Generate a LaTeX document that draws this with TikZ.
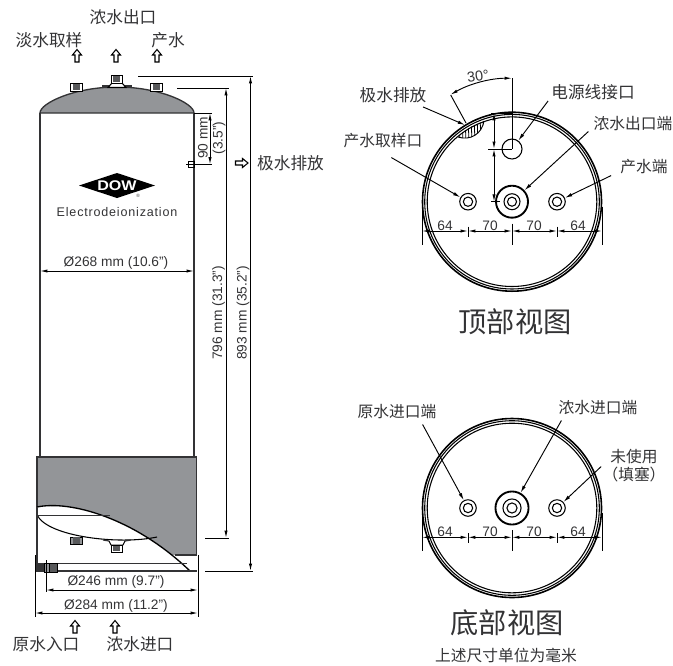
\documentclass[tikz,border=0pt]{standalone}
\usepackage{fontspec}
\setmainfont{Liberation Sans}
\newfontfamily\cjk{Noto Sans CJK SC}
\usetikzlibrary{arrows.meta, calc}
\definecolor{shellgray}{HTML}{939598}
\definecolor{inkgray}{HTML}{333335}
\definecolor{boltgray}{HTML}{58595B}
\tikzset{
    labelcn/.style={font=\cjk\fontsize{11.8}{14}\selectfont, text=inkgray, inner sep=0pt},
    labeltop/.style={font=\cjk\fontsize{12.5}{14}\selectfont, text=inkgray, inner sep=0pt},
    labelview/.style={font=\cjk\fontsize{21.2}{24}\selectfont, text=inkgray, inner sep=0pt},
    dimtext/.style={font=\fontsize{10.3}{12}\selectfont, text=inkgray, inner sep=0pt},
    dimline/.style={line width=0.7pt, {Latex[length=5.5pt,width=2.4pt]}-{Latex[length=5.5pt,width=2.4pt]}},
    thinline/.style={line width=0.7pt},
    leader/.style={line width=0.7pt, -{Latex[length=5.5pt,width=2.6pt]}},
    shellline/.style={line width=1pt, draw=inkgray},
    portring/.style={circle, draw=black, inner sep=0pt, line width=#1},
    portring/.default=0.8pt,
    hollowarrow/.pic={\draw[line width=0.8pt, fill=white] (0,-6.5) -- (4.5,-1) -- (2,-1) -- (2,6) -- (-2,6) -- (-2,-1) -- (-4.5,-1) -- cycle;}
}
\begin{document}
\begin{tikzpicture}[x=0.75pt, y=-0.75pt]
    \useasboundingbox (0,0) rectangle (673,665);

    % tank body
    \draw[shellline] (40,113) -- (40,457);
    \draw[shellline] (194,113) -- (194,457);
    \draw[shellline, fill=shellgray] (40,113) .. controls (40,103) and (75,87) .. (117,87) .. controls (159,87) and (194,103) .. (194,113) -- cycle;
    \fill[shellgray] (37,457) rectangle (196.5,555);
    \draw[shellline] (37,555) -- (37,457) -- (196.5,457) -- (196.5,555);
    \fill[white] (37,507) .. controls (70,500) and (135,518) .. (190,571) -- (37,571) -- cycle;
    \draw[line width=1pt] (37,507) .. controls (70,500) and (135,518) .. (190,571);
    \draw[line width=0.8pt] (37,515) .. controls (48,537) and (120,545) .. (157,537);
    \draw[line width=0.6pt, inkgray] (37,515) -- (110,515);
    \draw[shellline] (37,507) -- (37,563);
    \draw[shellline] (37,571) -- (197,571);
    \draw[inkgray, line width=0.7pt] (37,563) -- (187,563);
    \draw[shellline] (175,555) -- (196.5,555);

    % fittings
    \draw[line width=0.6pt, fill=white] (70,83) rectangle (82,91);
    \fill[boltgray] (72.5,83.5) rectangle (79.5,90);
    \draw[line width=0.6pt, fill=white] (150,83) rectangle (162,91);
    \fill[boltgray] (152.5,83.5) rectangle (159.5,90);
    \fill[inkgray] (102,85) rectangle (132,88);
    \draw[line width=0.8pt, fill=white] (108,87.5) -- (112,83) -- (122,83) -- (126,87.5) -- cycle;
    \draw[line width=0.6pt, fill=white] (111,75) rectangle (122,83);
    \fill[boltgray] (113,76) rectangle (120,82);
    \draw[line width=0.6pt, fill=shellgray] (70,537) rectangle (82,544);
    \fill[boltgray] (72.5,537) rectangle (79.5,543.5);
    \draw[line width=0.9pt, inkgray] (103,540) -- (109,541);
    \draw[line width=0.9pt, inkgray] (125,541) -- (131,540);
    \draw[line width=0.7pt, fill=white] (109,541) -- (111,545) -- (123,545) -- (125,541);
    \draw[line width=0.6pt, fill=white] (111,545) rectangle (122,552);
    \fill[boltgray] (113,545.5) rectangle (120,551);
    \fill[inkgray] (35,563) rectangle (44,572);
    \draw[line width=0.6pt, fill=shellgray] (44,563) rectangle (49,572);
    \draw[line width=0.6pt, fill=boltgray] (49,563) rectangle (57,572);
    \draw[line width=0.7pt] (188,161) rectangle (194,167);
    \draw[line width=0.7pt] (186,164) -- (196,164);

    % logo
    \fill[black] (79,185.5) -- (117,173) -- (155,185.5) -- (117,198) -- cycle;
    \node[font=\bfseries\fontsize{10.5}{12}\selectfont, text=white, inner sep=0pt] (logoDow) at (117,186) {\scalebox{1.15}[1]{DOW}};
    \node[font=\fontsize{3.5}{4}\selectfont, text=inkgray, inner sep=0pt] (logoReg) at (138,196) {®};
    \node[font=\fontsize{9.4}{12}\selectfont\addfontfeature{LetterSpace=6.5}, text=inkgray, inner sep=0pt] (logoText) at (117,212.5) {Electrodeionization};

    % side dimensions
    \draw[thinline] (138,76) -- (253,76);
    \draw[thinline] (177,88) -- (229,88);
    \draw[thinline] (205,538) -- (229,538);
    \draw[thinline] (205,571) -- (253,571);
    \draw[dimline] (226,88) -- (226,538);
    \draw[dimline] (250.5,76) -- (250.5,571);
    \node[dimtext, rotate=90] (dimShort) at (218.5,313) {796 mm (31.3")};
    \node[dimtext, rotate=90] (dimTall) at (243,313) {893 mm (35.2")};
    \draw[thinline] (194,113) -- (212,113);
    \draw[thinline] (194,164.5) -- (212,164.5);
    \draw[dimline] (210,113) -- (210,164.5);
    \node[dimtext, rotate=90] (dimDrainA) at (203,138) {90 mm};
    \node[dimtext, rotate=90] (dimDrainB) at (219,138) {(3.5")};
    \draw[dimline] (40,271) -- (194,271);
    \node[dimtext] (dimInner) at (116,263) {Ø268 mm (10.6")};
    \draw[thinline] (46,560) -- (46,592);
    \draw[thinline] (35,555) -- (35,617);
    \draw[thinline] (198,555) -- (198,617);
    \draw[dimline] (46,590) -- (198,590);
    \draw[dimline] (35,613) -- (198,613);
    \node[dimtext] (dimBase) at (116,582) {Ø246 mm (9.7")};
    \node[dimtext] (dimOuter) at (116,606) {Ø284 mm (11.2")};

    % flow labels
    \pic at (77,56) {hollowarrow};
    \pic at (116,56) {hollowarrow};
    \pic at (157,56) {hollowarrow};
    \pic at (75,627) {hollowarrow};
    \pic at (115,627) {hollowarrow};
    \pic[rotate=-90] at (241.5,163) {hollowarrow};
    \node[labeltop] (flowConc) at (123,17) {浓水出口};
    \node[labeltop] (flowSample) at (49,40) {淡水取样};
    \node[labeltop] (flowProduct) at (168,40) {产水};
    \node[labeltop] (flowDrain) at (290.5,163) {极水排放};
    \node[labeltop] (flowFeed) at (46,644) {原水入口};
    \node[labeltop] (flowConcIn) at (140,644) {浓水进口};

    % top and bottom views
    \foreach \nm/\cy/\ra/\rb/\rc in {top/201.7/12/6/3.4, bot/508/12.4/6.8/3.8} {
        \draw[line width=1.2pt] (512,\cy) circle[radius=89.5];
        \draw[line width=0.8pt] (512,\cy) circle[radius=87.3];
        \draw[line width=0.8pt] (512,\cy) circle[radius=84.8];
        \node[portring=1.4pt, minimum size=2*\ra pt] (port\nm C) at (512,\cy) {};
        \node[portring, minimum size=2*\rb pt] at (512,\cy) {};
        \node[portring, minimum size=2*\rc pt] at (512,\cy) {};
        \foreach \sd/\px in {L/468, R/557} {
            \node[portring, minimum size=12.4pt] (port\nm\sd) at (\px,\cy) {};
            \node[portring, minimum size=7pt] at (\px,\cy) {};
        }
        \coordinate (d\nm A) at (422,\cy+29.3);
        \coordinate (d\nm B) at (468,\cy+29.3);
        \coordinate (d\nm C) at (512,\cy+29.3);
        \coordinate (d\nm D) at (557,\cy+29.3);
        \coordinate (d\nm E) at (602,\cy+29.3);
        \draw[dimline] (d\nm A) -- (d\nm B);
        \draw[dimline] (d\nm B) -- (d\nm C);
        \draw[dimline] (d\nm C) -- (d\nm D);
        \draw[dimline] (d\nm D) -- (d\nm E);
        \draw[thinline] (422,\cy+5) -- (422,\cy+43);
        \draw[thinline] (602,\cy+5) -- (602,\cy+43);
        \draw[thinline] (512,\cy+22) -- (512,\cy+43);
        \draw[thinline] (468,\cy+25) -- (468,\cy+35);
        \draw[thinline] (557,\cy+25) -- (557,\cy+35);
        \node[dimtext] at (445,\cy+24) {64};
        \node[dimtext] at (490,\cy+24) {70};
        \node[dimtext] at (534,\cy+24) {70};
        \node[dimtext] at (578,\cy+24) {64};
    }

    % top view details
    \node[portring, minimum size=15pt] (portPower) at (512,149) {};
    \begin{scope}
        \clip (458,137) .. controls (470,141) and (482,134) .. (484,121) .. controls (473,125) and (464,130) .. (458,137);
        \foreach \hx in {459,462,...,486} {
            \draw[line width=0.6pt] (\hx,116) -- (\hx+1,142);
        }
    \end{scope}
    \draw[line width=0.7pt] (458,137) .. controls (470,141) and (482,134) .. (484,121);
    \draw[thinline] (512,78) -- (512,149);
    \draw[thinline] (450.7,95) -- (466,123);
    \draw[dimline] (450.5,94.7) arc[start angle=240, end angle=270, radius=123];
    \node[font=\fontsize{10.8}{12}\selectfont, text=inkgray, inner sep=0pt, rotate=8] (angleText) at (478,76) {30°};
    \draw[thinline] (491,113) -- (512,113);
    \draw[thinline] (488,149) -- (512,149);
    \draw[thinline] (491,201.7) -- (500,201.7);
    \draw[dimline] (494,113) -- (494,149);
    \draw[dimline] (494,149) -- (494,201.7);

    \node[labeltop] (tagDrain) at (393,95) {极水排放};
    \node[labeltop] (tagPower) at (593,92) {电源线接口};
    \node[labelcn] (tagConcOut) at (633,124) {浓水出口端};
    \node[labelcn] (tagSample) at (383,141) {产水取样口};
    \node[labelcn] (tagProduct) at (644,167) {产水端};
    \node[labelview] (titleTop) at (515,322) {顶部视图};
    \coordinate (drainMark) at (465,125);
    \draw[leader] ([shift={(-3.5,4)}]tagDrain.south east) -- (drainMark);
    \draw[leader] ([shift={(-3,1)}]tagPower.south west) -- (portPower);
    \draw[leader] ([shift={(-5,0)}]tagConcOut.south west) -- (porttopC);
    \draw[leader] ([shift={(48,9)}]tagSample.south west) -- (porttopL);
    \draw[leader] ([shift={(-9,1)}]tagProduct.south west) -- (porttopR);

    % bottom view details
    \node[labelcn] (tagFeed) at (397,412) {原水进口端};
    \node[labelcn] (tagConcIn) at (598,408) {浓水进口端};
    \node[labelcn] (tagUnused) at (634,457) {未使用};
    \node[labelcn] (tagPlug) at (634,475) {（填塞）};
    \node[labelview] (titleBot) at (507,623) {底部视图};
    \node[labelcn] (noteUnits) at (506,655) {上述尺寸单位为毫米};
    \draw[leader] ([shift={(-14,5)}]tagFeed.south east) -- (portbotL);
    \draw[leader] ([shift={(3,5)}]tagConcIn.south west) -- (portbotC);
    \draw[leader] ([shift={(-9,2)}]tagUnused.south west) -- (portbotR);
\end{tikzpicture}
\end{document}
